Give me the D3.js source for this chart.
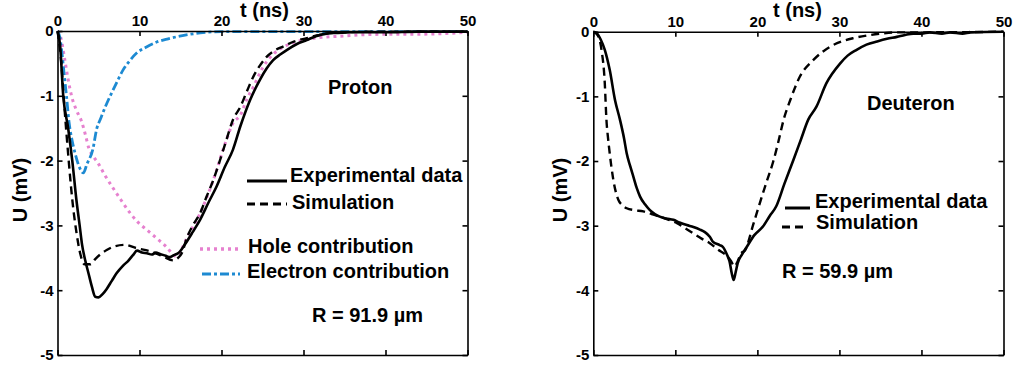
<!DOCTYPE html>
<html>
<head>
<meta charset="utf-8">
<script src="https://cdn.jsdelivr.net/npm/d3@7"></script>
<style>
  html, body { margin: 0; padding: 0; background: #fff; }
  svg { display: block; }
  text { font-family: "Liberation Sans", Arial, sans-serif; font-weight: bold; fill: #000; }
</style>
</head>
<body>
<svg id="chart" width="1015" height="368"></svg>
<script>
// ---------------- DATA ----------------
const xTicks = [0, 10, 20, 30, 40, 50];
const yTicks = [0, -1, -2, -3, -4, -5];

// Proton panel
const protonExpT = [0,0.3,0.7,1.3,1.8,2.3,2.7,3.0,3.4,3.8,4.2,4.6,5.0,5.5,6.0,6.6,7.2,8.0,8.6,9.2,9.7,10.3,10.9,11.5,12.0,12.5,13.2,13.7,14.2,14.8,15.5,16.5,17.4,18.4,19.4,20.4,21.4,22.3,23.5,24.7,25.5,26.3,27.2,28.0,29.2,30.4,31.5,32.8,34,36,40,44,50];
const protonExpU = [0,-0.2,-1.0,-1.5,-2.0,-2.6,-3.0,-3.3,-3.55,-3.75,-3.95,-4.1,-4.11,-4.06,-3.98,-3.86,-3.74,-3.62,-3.55,-3.46,-3.39,-3.42,-3.43,-3.45,-3.42,-3.44,-3.47,-3.49,-3.46,-3.42,-3.3,-3.1,-2.91,-2.65,-2.4,-2.1,-1.83,-1.47,-1.06,-0.75,-0.58,-0.45,-0.36,-0.29,-0.2,-0.14,-0.08,-0.04,-0.03,-0.02,-0.02,-0.01,-0.01];

const protonSimT = [0,0.4,0.8,1.3,1.8,2.3,2.8,3.3,4.0,4.6,5.2,6.0,6.8,8.2,9.6,11.3,12.9,14.1,14.7,15.2,15.75,16.5,17.4,18.2,19.0,19.8,20.6,21.4,22.3,23.1,23.9,24.7,25.5,26.5,27.5,28.9,30.4,31.6,32.8,35,40,50];
const protonSimU = [0,-0.4,-1.1,-1.9,-2.6,-3.1,-3.45,-3.6,-3.6,-3.52,-3.45,-3.38,-3.33,-3.3,-3.35,-3.4,-3.48,-3.54,-3.5,-3.42,-3.2,-3.0,-2.81,-2.55,-2.3,-2.0,-1.68,-1.37,-1.17,-0.93,-0.7,-0.53,-0.4,-0.3,-0.24,-0.16,-0.11,-0.07,-0.04,-0.02,-0.01,-0.01];

const holeT = [0,0.4,0.9,1.3,1.73,2.3,2.95,3.4,3.8,4.4,5.0,5.8,6.65,7.7,8.8,9.8,10.9,12.1,13.35,14.1,14.5,15.0,15.75,17.4,19.0,20.6,21.4,22.3,23.1,23.9,25.0,26.3,27.5,29,30.4,32,34.5,37,40.5,44,47,50];
const holeU = [0,-0.1,-0.45,-0.75,-1.01,-1.22,-1.4,-1.6,-1.8,-1.94,-2.05,-2.23,-2.4,-2.6,-2.8,-2.95,-3.07,-3.2,-3.34,-3.45,-3.48,-3.4,-3.2,-2.81,-2.3,-1.68,-1.42,-1.3,-1.05,-0.86,-0.57,-0.36,-0.25,-0.17,-0.13,-0.1,-0.08,-0.06,-0.05,-0.05,-0.04,-0.02];

const electronT = [0,0.3,0.5,0.8,1.1,1.4,1.8,2.13,2.6,3.15,3.6,4.3,4.8,5.2,5.8,6.4,7.2,8.0,8.8,9.65,10.8,12.1,13.5,14.9,16.2,17.4,20,25,30,50];
const electronU = [0,-0.1,-0.29,-0.65,-1.01,-1.4,-1.7,-1.88,-2.08,-2.19,-2.05,-1.83,-1.5,-1.37,-1.18,-1.01,-0.8,-0.6,-0.46,-0.34,-0.25,-0.17,-0.12,-0.08,-0.05,-0.03,-0.01,-0.01,-0.01,-0.01];

// Deuteron panel
const deutExpT = [0,0.4,0.9,1.4,2.0,2.65,3.25,3.75,4.07,4.5,4.88,5.3,5.7,6.3,6.9,7.5,8.1,8.9,9.76,10.5,11.4,12.2,13.0,13.6,14.2,14.6,15.4,15.8,16.3,16.6,16.9,17.1,17.35,17.6,18.1,18.7,19.6,20.7,21.5,22.3,23.3,24.4,25.3,26.2,27.2,28.4,30.1,31.0,32.1,33.3,34.6,35.8,37,38,39,40,41,42.5,43.5,45,46,50];
const deutExpU = [0,-0.02,-0.12,-0.28,-0.59,-1.06,-1.36,-1.65,-1.88,-2.08,-2.24,-2.42,-2.55,-2.67,-2.76,-2.82,-2.86,-2.89,-2.91,-2.95,-2.99,-3.02,-3.06,-3.1,-3.17,-3.25,-3.3,-3.33,-3.45,-3.55,-3.75,-3.84,-3.72,-3.58,-3.45,-3.33,-3.15,-3.01,-2.85,-2.7,-2.35,-1.98,-1.67,-1.36,-1.16,-0.8,-0.49,-0.37,-0.28,-0.2,-0.15,-0.11,-0.08,-0.05,-0.03,-0.03,-0.01,-0.03,-0.01,-0.03,-0.01,0];

const deutSimT = [0,0.5,1.0,1.4,1.6,1.8,2.0,2.44,3.05,3.5,4.07,5,6.1,7.1,8.1,9.2,10.2,11.2,12.2,13.2,14.2,15.2,16.3,16.8,17.2,17.6,18.0,18.5,19.5,20.3,21.1,21.95,22.6,23.2,24.0,25.2,26.8,28.9,30.3,31.7,33.3,35,37,40,50];
const deutSimU = [0,-0.05,-0.28,-0.8,-1.36,-1.65,-1.88,-2.29,-2.6,-2.68,-2.73,-2.76,-2.78,-2.82,-2.86,-2.91,-2.96,-3.04,-3.12,-3.2,-3.27,-3.37,-3.47,-3.55,-3.63,-3.55,-3.43,-3.38,-2.98,-2.65,-2.33,-2.0,-1.68,-1.36,-1.06,-0.69,-0.44,-0.23,-0.15,-0.1,-0.06,-0.03,-0.01,-0.01,0];

const protonLegend = ["Experimental data", "Simulation", "Hole contribution", "Electron contribution"];
const deutLegend = ["Experimental data", "Simulation"];

// ---------------- STYLES ----------------
const styles = {
  exp:  { stroke: "#000", width: 2.6, dash: null },
  sim:  { stroke: "#000", width: 2.4, dash: "8,5" },
  hole: { stroke: "#e681cf", width: 3, dash: "3,4" },
  elec: { stroke: "#1d8ad2", width: 2.8, dash: "9,3,3,3" }
};
const labelSize = "20px";

const svg = d3.select("#chart");

function zip(t, u) { return t.map((v, i) => ({ t: v, u: u[i] })); }

function drawPanel(cfg) {
  const x = d3.scaleLinear().domain([0, 50]).range(cfg.xr);
  const y = d3.scaleLinear().domain([-5, 0]).range(cfg.yr);
  const g = svg.append("g");

  const line = d3.line().x(d => x(d.t)).y(d => y(d.u)).curve(d3.curveMonotoneX);

  cfg.series.forEach(s => {
    const st = styles[s.style];
    g.append("path")
      .datum(zip(s.t, s.u))
      .attr("fill", "none")
      .attr("stroke", st.stroke)
      .attr("stroke-width", st.width)
      .attr("stroke-dasharray", st.dash)
      .attr("stroke-linejoin", "round")
      .attr("d", line);
  });

  const fmt = d => String(d);
  const top = g.append("g").attr("transform", `translate(0,${cfg.yr[1]})`)
    .call(d3.axisTop(x).tickValues(xTicks).tickFormat(fmt).tickSizeInner(-5).tickSizeOuter(0).tickPadding(5));
  const bottom = g.append("g").attr("transform", `translate(0,${cfg.yr[0]})`)
    .call(d3.axisBottom(x).tickValues(xTicks).tickFormat("").tickSizeInner(-5).tickSizeOuter(0));
  const left = g.append("g").attr("transform", `translate(${cfg.xr[0]},0)`)
    .call(d3.axisLeft(y).tickValues(yTicks).tickFormat(fmt).tickSizeInner(-5).tickSizeOuter(0).tickPadding(4));
  const right = g.append("g").attr("transform", `translate(${cfg.xr[1]},0)`)
    .call(d3.axisRight(y).tickValues(yTicks).tickFormat("").tickSizeInner(-5).tickSizeOuter(0));

  [top, bottom, left, right].forEach(a => {
    a.select(".domain").attr("stroke", "#000").attr("stroke-width", 1.6);
    a.selectAll(".tick line").attr("stroke", "#000").attr("stroke-width", 1.6);
    a.selectAll("text").style("font-family", '"Liberation Sans", Arial, sans-serif')
      .style("font-weight", "bold").style("font-size", "15px").attr("fill", "#000");
  });

  // axis titles
  g.append("text").attr("x", cfg.tLabel[0]).attr("y", cfg.tLabel[1])
    .style("font-size", labelSize).text("t (ns)");
  g.append("text")
    .attr("transform", `translate(${cfg.uLabel[0]},${cfg.uLabel[1]}) rotate(-90)`)
    .attr("text-anchor", "middle").style("font-size", labelSize).text("U (mV)");

  // panel name
  g.append("text").attr("x", cfg.name[0]).attr("y", cfg.name[1])
    .style("font-size", labelSize).text(cfg.name[2]);
  // R text
  g.append("text").attr("x", cfg.rText[0]).attr("y", cfg.rText[1])
    .style("font-size", labelSize).text(cfg.rText[2]);

  // legend
  cfg.legend.forEach(l => {
    const st = styles[l.style];
    g.append("line").attr("x1", l.x1).attr("x2", l.x2).attr("y1", l.ly).attr("y2", l.ly)
      .attr("stroke", st.stroke).attr("stroke-width", st.width + 0.4)
      .attr("stroke-dasharray", st.dash);
    g.append("text").attr("x", l.tx).attr("y", l.ty).style("font-size", labelSize).text(l.label);
  });
}

drawPanel({
  xr: [57.5, 467.5], yr: [355, 31],
  series: [
    { t: holeT, u: holeU, style: "hole" },
    { t: electronT, u: electronU, style: "elec" },
    { t: protonSimT, u: protonSimU, style: "sim" },
    { t: protonExpT, u: protonExpU, style: "exp" }
  ],
  tLabel: [240, 17], uLabel: [27, 190],
  name: [328, 94, "Proton"],
  rText: [312, 322, "R = 91.9 \u00B5m"],
  legend: [
    { label: protonLegend[0], style: "exp", x1: 247, x2: 287, ly: 181, tx: 290, ty: 182 },
    { label: protonLegend[1], style: "sim", x1: 247, x2: 287, ly: 204, tx: 292, ty: 209 },
    { label: protonLegend[2], style: "hole", x1: 200, x2: 240, ly: 249, tx: 248, ty: 253 },
    { label: protonLegend[3], style: "elec", x1: 202, x2: 240, ly: 274, tx: 247, ty: 278 }
  ]
});

drawPanel({
  xr: [593.3, 1003.5], yr: [355, 31.7],
  series: [
    { t: deutSimT, u: deutSimU, style: "sim" },
    { t: deutExpT, u: deutExpU, style: "exp" }
  ],
  tLabel: [773, 17], uLabel: [567, 190],
  name: [867, 110, "Deuteron"],
  rText: [782, 278, "R = 59.9 \u00B5m"],
  legend: [
    { label: deutLegend[0], style: "exp", x1: 785, x2: 810, ly: 208, tx: 815, ty: 208 },
    { label: deutLegend[1], style: "sim", x1: 782, x2: 808, ly: 227, tx: 816, ty: 229 }
  ]
});
</script>
</body>
</html>
